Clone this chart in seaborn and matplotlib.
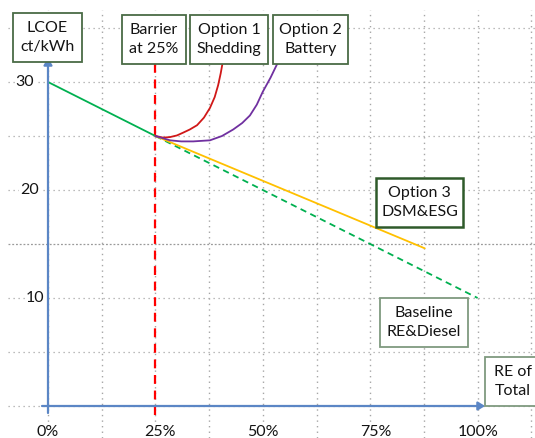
import matplotlib
matplotlib.use("Agg")
import matplotlib.pyplot as plt
from matplotlib.patches import Rectangle, FancyArrowPatch
import seaborn as sns
import pandas as pd

# LCOE pathways vs. renewable share
baseline_x = [0, 25]
baseline_y = [30, 25]
baseline_ext_x = [25, 100]
baseline_ext_y = [25, 10]
dsm_x = [25, 87.7]
dsm_y = [25, 14.6]
shed_x = [25, 26.8, 28.4, 30.0, 31.4, 33.0, 34.7, 36.3, 37.7, 38.8, 39.6, 40.2, 40.7]
shed_y = [25, 24.85, 24.9, 25.05, 25.3, 25.6, 26.0, 26.7, 27.6, 28.6, 29.7, 30.8, 31.9]
batt_x = [25, 28.4, 31.0, 33.8, 37.7, 40.5, 43.1, 45.2, 47.0, 48.6, 50.0, 51.8, 53.5]
batt_y = [25, 24.6, 24.5, 24.5, 24.6, 25.0, 25.6, 26.2, 26.9, 27.9, 29.1, 30.4, 31.8]
barrier_x = 25

y_ticks = [10, 20, 30]
x_ticks = [0, 25, 50, 75, 100]
x_tick_labels = ["0%", "25%", "50%", "75%", "100%"]

sns.set_theme(style="white")
plt.rcParams["font.family"] = ["Lato", "DejaVu Sans"]

W, H = 535, 438
fig = plt.figure(figsize=(W / 100, H / 100), dpi=100)
ax = fig.add_axes([0, 0, 1, 1])

# pixel <-> data mapping of the frame
def px_x(v):
    return (v - 48) / 4.296

def px_y(v):
    return (406 - v) / 10.8

ax.set_xlim(px_x(0), px_x(W))
ax.set_ylim(px_y(H), px_y(0))
ax.axis("off")

# dotted grid
grid_col = "#a6a6a6"
for gx in [12.5 * i for i in range(0, 10)]:
    ax.vlines(gx, px_y(H), px_y(10), colors=grid_col, linestyles=(0, (1, 3)), lw=1.0, zorder=1)
for gy in range(0, 40, 5):
    ls = (0, (1.5, 1.5)) if gy == 15 else (0, (1, 3))
    col = "#9a9a9a" if gy == 15 else grid_col
    ax.hlines(gy, px_x(8), px_x(W), colors=col, linestyles=ls, lw=0.9, zorder=1)

# curves
def line(xs, ys, color, dashed=False):
    df = pd.DataFrame({"x": xs, "y": ys})
    sns.lineplot(data=df, x="x", y="y", ax=ax, color=color, lw=1.3,
                 linestyle="--" if dashed else "-", sort=False, zorder=4)

line(baseline_x, baseline_y, "#00b050")
line(baseline_ext_x, baseline_ext_y, "#00b050", dashed=True)
line(dsm_x, dsm_y, "#ffc000")
line(shed_x, shed_y, "#d01818")
line(batt_x, batt_y, "#7030a0")
ax.lines[1].set_dashes((3.5, 2.5))

# barrier marker
ax.vlines(barrier_x, px_y(415), px_y(64), colors="#ff0000", linestyles=(0, (4, 3)), lw=1.6, zorder=3)

# axes with arrows
axis_col = "#5b86c5"
ax.add_patch(FancyArrowPatch((0, px_y(413)), (0, px_y(58)), arrowstyle="-|>,head_length=4,head_width=2.5",
                             color=axis_col, lw=1.6, zorder=5, shrinkA=0, shrinkB=0))
ax.add_patch(FancyArrowPatch((px_x(42), 0), (px_x(485), 0), arrowstyle="-|>,head_length=4,head_width=2.5",
                             color=axis_col, lw=1.6, zorder=5, shrinkA=0, shrinkB=0))

# tick labels
fs = 11.5
txt_col = "#141414"
y_label_right = {30: 34, 20: 39, 10: 44}
for v in y_ticks:
    ax.text(px_x(y_label_right[v]), v, str(v), ha="right", va="center", fontsize=fs,
            color=txt_col, zorder=6,
            bbox=dict(boxstyle="square,pad=0.05", fc="white", ec="none"))
x_label_px = [48, 160, 263, 376, 478]
for v, lab, p in zip(x_ticks, x_tick_labels, x_label_px):
    ax.text(px_x(p), px_y(432), lab, ha="center", va="center", fontsize=fs,
            color=txt_col, zorder=6,
            bbox=dict(boxstyle="square,pad=0.05", fc="white", ec="none"))

# annotation boxes (pixel rectangles)
def box(x0, y0, x1, y1, text, ec="#4a6b45", lw=1.3):
    fx0, fx1 = x0 / W, x1 / W
    fy0, fy1 = 1 - y1 / H, 1 - y0 / H
    fig.patches.append(Rectangle((fx0, fy0), fx1 - fx0, fy1 - fy0, transform=fig.transFigure,
                                 fc="white", ec=ec, lw=lw, zorder=7))
    fig.text((fx0 + fx1) / 2, (fy0 + fy1) / 2, text, ha="center", va="center",
             fontsize=fs, color=txt_col, linespacing=1.45, zorder=8)

box(13, 13, 82, 62, "LCOE\nct/kWh")
box(122, 15, 186, 64, "Barrier\nat 25%")
box(190, 15, 268, 64, "Option 1\nShedding")
box(273, 15, 348, 64, "Option 2\nBattery")
box(376, 178, 463, 227, "Option 3\nDSM&ESG", ec="#2f5a2a", lw=1.8)
box(380, 298, 468, 347, "Baseline\nRE&Diesel", ec="#7f9a7f")
box(485, 357, 540, 406, "RE of\nTotal", ec="#7f9a7f")

fig.savefig("out.png", dpi=100)
